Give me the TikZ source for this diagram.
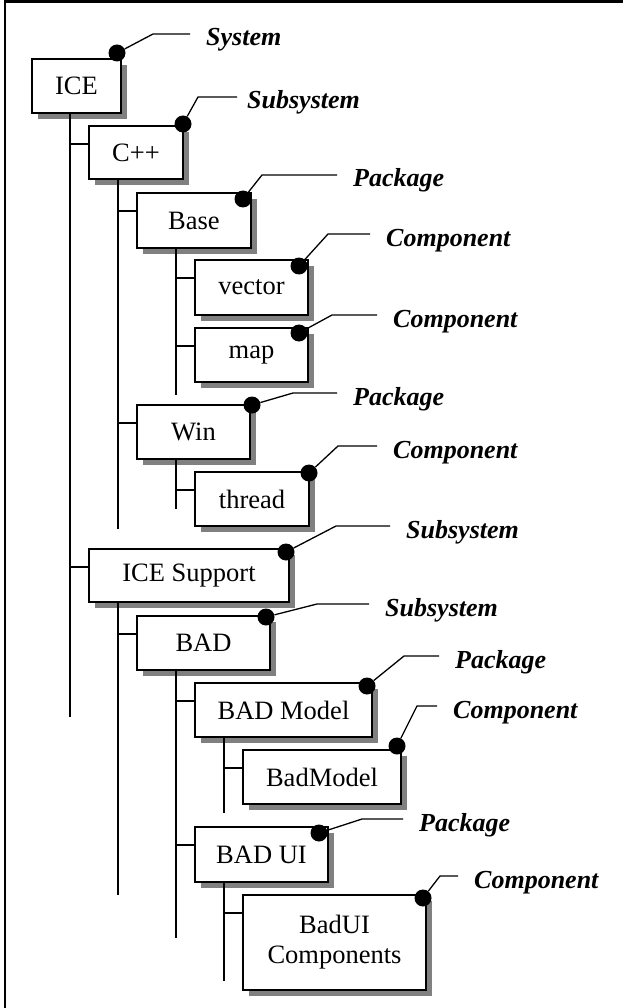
\documentclass[tikz,border=0pt]{standalone}
\usepackage{fontspec}
\setmainfont{Liberation Serif}
\usetikzlibrary{shadows, calc}
\tikzstyle{unit} = [draw, line width=1.6pt, fill=white, inner sep=0pt, align=center, font=\fontsize{26.5}{30}\selectfont, drop shadow={shadow xshift=6pt, shadow yshift=-6pt, fill=black!50, opacity=1}]
\tikzstyle{pin} = [circle, fill=black, inner sep=0pt, minimum size=17pt]
\tikzstyle{kind} = [anchor=west, inner xsep=16pt, inner ysep=0pt, text height=26pt, text depth=2pt, font=\fontsize{26}{30}\selectfont\bfseries\itshape]
\tikzstyle{tree} = [line width=1.6pt]
\tikzstyle{lead} = [line width=1.3pt]

\begin{document}
\begin{tikzpicture}[x=1pt, y=-1pt]
    \useasboundingbox (0,0) rectangle (623,1008);

        % Frame
        \draw [line width=3pt] (4,1.5) -- (623,1.5);
        \draw [line width=2pt] (5,0) -- (5,1008);

        % Units
        \node (ice) [unit, minimum width=89pt, minimum height=54pt] at (76.5,86) {ICE};
        \node (cpp) [unit, minimum width=94pt, minimum height=53pt] at (136,152.5) {C++};
        \node (base) [unit, minimum width=114pt, minimum height=55pt] at (194,220.5) {Base};
        \node (vector) [unit, minimum width=113pt, minimum height=55pt] at (251.5,287.5) {vector};
        \node (map) [unit, minimum width=113pt, minimum height=54pt] at (251.5,355) {map};
        \node (win) [unit, minimum width=113pt, minimum height=54pt] at (193.5,432) {Win};
        \node (thread) [unit, minimum width=114pt, minimum height=54pt] at (252,499) {thread};
        \node (support) [unit, minimum width=200pt, minimum height=53pt] at (189,575.5) {ICE Support};
        \node (bad) [unit, minimum width=133pt, minimum height=54pt] at (203.5,643) {BAD};
        \node (badmodel) [unit, minimum width=177pt, minimum height=54pt] at (283.5,710) {BAD Model};
        \node (modelcomp) [unit, minimum width=158pt, minimum height=54pt] at (322,777) {BadModel};
        \node (badui) [unit, minimum width=133pt, minimum height=55pt] at (261.5,854.5) {BAD UI};
        \node (uicomp) [unit, minimum width=183pt, minimum height=95pt] at (334.5,942.5) {BadUI\\Components};

        % Tree bars
        \coordinate (icebar) at (70,717);
        \coordinate (cppbar) at (118,529);
        \coordinate (basebar) at (176,395);
        \coordinate (winbar) at (176,509);
        \coordinate (supportbar) at (118,895);
        \coordinate (badbar) at (176,938);
        \coordinate (modelbar) at (224,813);
        \coordinate (uibar) at (224,981);
        \draw [tree] (icebar |- ice.south) -- (icebar);
        \draw [tree] (cppbar |- cpp.south) -- (cppbar);
        \draw [tree] (basebar |- base.south) -- (basebar);
        \draw [tree] (winbar |- win.south) -- (winbar);
        \draw [tree] (supportbar |- support.south) -- (supportbar);
        \draw [tree] (badbar |- bad.south) -- (badbar);
        \draw [tree] (modelbar |- badmodel.south) -- (modelbar);
        \draw [tree] (uibar |- badui.south) -- (uibar);

        % Branches into the bars
        \draw [tree] ($(cpp.north west)+(0,19)$) -- ($(icebar |- cpp.north west)+(0,19)$);
        \draw [tree] ($(support.north west)+(0,19)$) -- ($(icebar |- support.north west)+(0,19)$);
        \draw [tree] ($(base.north west)+(0,19)$) -- ($(cppbar |- base.north west)+(0,19)$);
        \draw [tree] ($(win.north west)+(0,19)$) -- ($(cppbar |- win.north west)+(0,19)$);
        \draw [tree] ($(vector.north west)+(0,19)$) -- ($(basebar |- vector.north west)+(0,19)$);
        \draw [tree] ($(map.north west)+(0,19)$) -- ($(basebar |- map.north west)+(0,19)$);
        \draw [tree] ($(thread.north west)+(0,19)$) -- ($(winbar |- thread.north west)+(0,19)$);
        \draw [tree] ($(bad.north west)+(0,19)$) -- ($(supportbar |- bad.north west)+(0,19)$);
        \draw [tree] ($(badmodel.north west)+(0,19)$) -- ($(badbar |- badmodel.north west)+(0,19)$);
        \draw [tree] ($(badui.north west)+(0,19)$) -- ($(badbar |- badui.north west)+(0,19)$);
        \draw [tree] ($(modelcomp.north west)+(0,19)$) -- ($(modelbar |- modelcomp.north west)+(0,19)$);
        \draw [tree] ($(uicomp.north west)+(0,19)$) -- ($(uibar |- uicomp.north west)+(0,19)$);

        % Pins
        \node (ice-pin) [pin] at (117,53) {};
        \node (cpp-pin) [pin] at (183,124) {};
        \node (base-pin) [pin] at (243,199) {};
        \node (vector-pin) [pin] at (299,266) {};
        \node (map-pin) [pin] at (299,333) {};
        \node (win-pin) [pin] at (252,405) {};
        \node (thread-pin) [pin] at (309,473) {};
        \node (support-pin) [pin] at (286,552) {};
        \node (bad-pin) [pin] at (266,617) {};
        \node (badmodel-pin) [pin] at (367,686) {};
        \node (modelcomp-pin) [pin] at (397,746) {};
        \node (badui-pin) [pin] at (319,833) {};
        \node (uicomp-pin) [pin] at (423,898) {};

        % Kinds
        \node (ice-kind) [kind] at (190,34) {System};
        \node (cpp-kind) [kind] at (231,97) {Subsystem};
        \node (base-kind) [kind] at (337,175) {Package};
        \node (vector-kind) [kind] at (370,234) {Component};
        \node (map-kind) [kind] at (377,315) {Component};
        \node (win-kind) [kind] at (337,393) {Package};
        \node (thread-kind) [kind] at (377,446) {Component};
        \node (support-kind) [kind] at (390,526) {Subsystem};
        \node (bad-kind) [kind] at (369,604) {Subsystem};
        \node (badmodel-kind) [kind] at (439,656) {Package};
        \node (modelcomp-kind) [kind] at (437,706) {Component};
        \node (badui-kind) [kind] at (403,819) {Package};
        \node (uicomp-kind) [kind] at (458,876) {Component};

        % Leaders from pins to kinds
        \coordinate (ice-bend) at (153,34);
        \coordinate (cpp-bend) at (198,97);
        \coordinate (base-bend) at (262,175);
        \coordinate (vector-bend) at (328,234);
        \coordinate (map-bend) at (332,315);
        \coordinate (win-bend) at (293,393);
        \coordinate (thread-bend) at (338,446);
        \coordinate (support-bend) at (336,526);
        \coordinate (bad-bend) at (317,604);
        \coordinate (badmodel-bend) at (404,656);
        \coordinate (modelcomp-bend) at (417,706);
        \coordinate (badui-bend) at (362,819);
        \coordinate (uicomp-bend) at (440,876);
        \draw [lead] (ice-pin) -- (ice-bend) -- (ice-kind.west);
        \draw [lead] (cpp-pin) -- (cpp-bend) -- ([xshift=6pt]cpp-kind.west);
        \draw [lead] (base-pin) -- (base-bend) -- (base-kind.west);
        \draw [lead] (vector-pin) -- (vector-bend) -- (vector-kind.west);
        \draw [lead] (map-pin) -- (map-bend) -- (map-kind.west);
        \draw [lead] (win-pin) -- (win-bend) -- (win-kind.west);
        \draw [lead] (thread-pin) -- (thread-bend) -- (thread-kind.west);
        \draw [lead] (support-pin) -- (support-bend) -- (support-kind.west);
        \draw [lead] (bad-pin) -- (bad-bend) -- (bad-kind.west);
        \draw [lead] (badmodel-pin) -- (badmodel-bend) -- (badmodel-kind.west);
        \draw [lead] (modelcomp-pin) -- (modelcomp-bend) -- (modelcomp-kind.west);
        \draw [lead] (badui-pin) -- (badui-bend) -- (badui-kind.west);
        \draw [lead] (uicomp-pin) -- (uicomp-bend) -- (uicomp-kind.west);

    \end{tikzpicture}
\end{document}
